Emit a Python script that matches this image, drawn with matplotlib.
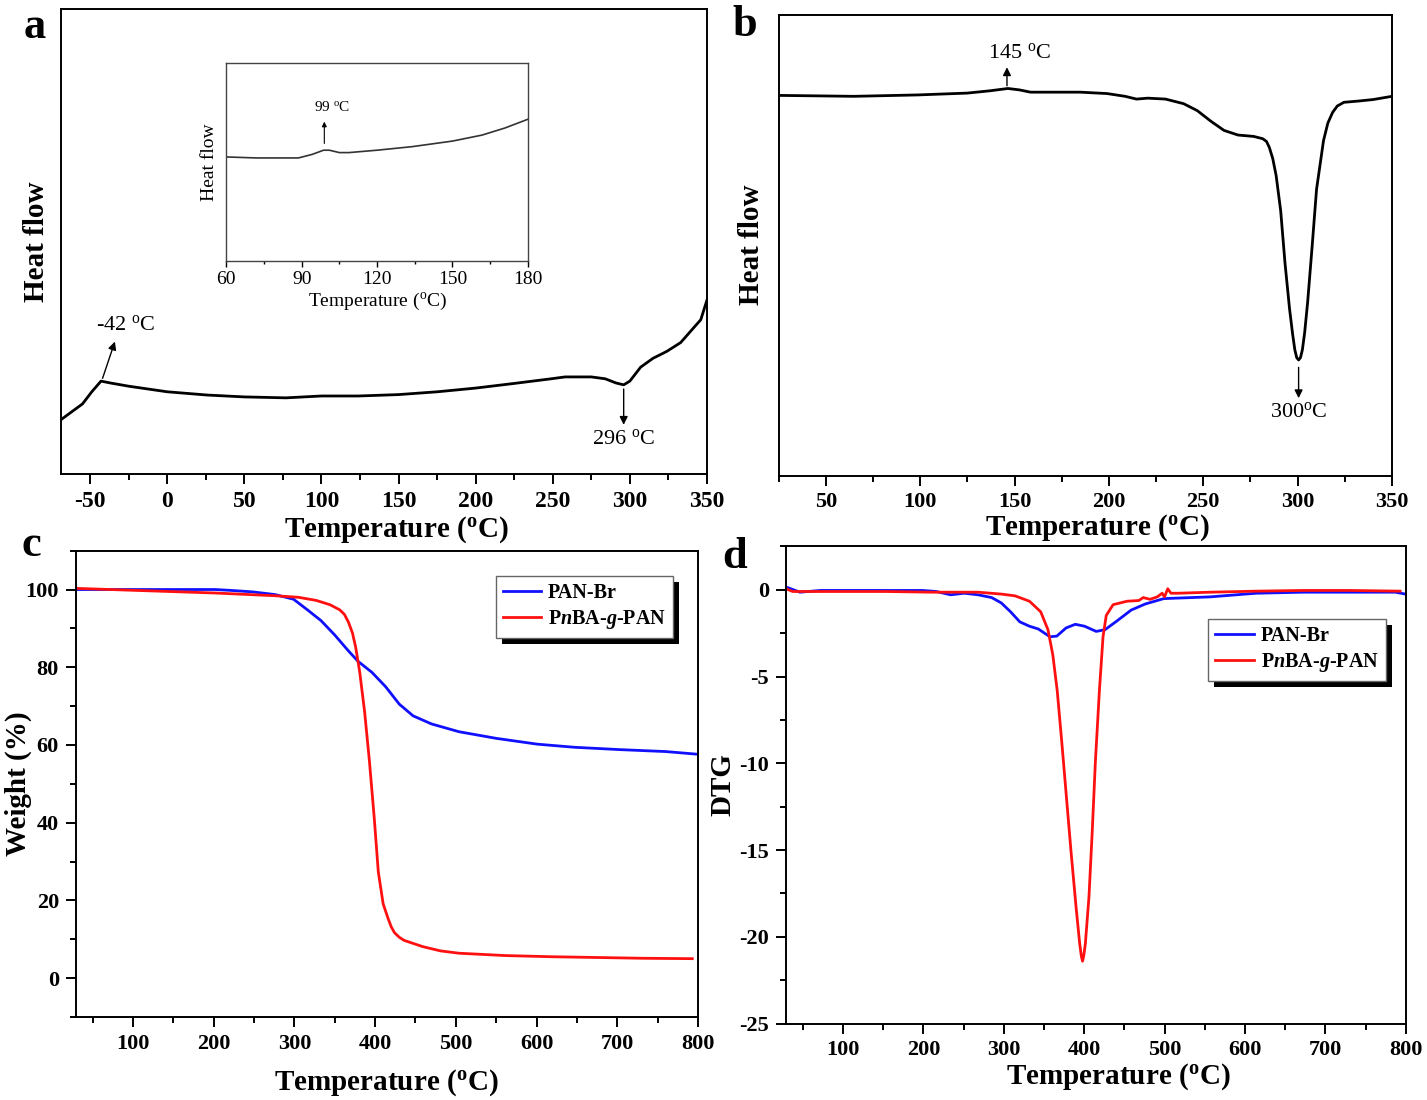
import matplotlib
matplotlib.use("Agg")
import matplotlib.pyplot as plt
import numpy as np
from matplotlib.ticker import MultipleLocator, NullLocator
from matplotlib.patches import Rectangle

plt.rcParams['font.family'] = 'Liberation Serif'
plt.rcParams['mathtext.fontset'] = 'custom'
plt.rcParams['mathtext.rm'] = 'Liberation Serif'
plt.rcParams['mathtext.bf'] = 'Liberation Serif:bold'
plt.rcParams['mathtext.it'] = 'Liberation Serif:italic'
plt.rcParams['mathtext.bfit'] = 'Liberation Serif:italic:bold'
plt.rcParams['axes.unicode_minus'] = False

# ---- data ----
# a: DSC, heat flow in arbitrary units
dsc_a_temp = [-69, -55, -49, -43, -37, -25, 0, 26, 50, 77, 100, 124, 150, 175, 200,
              225, 249, 258, 275, 284, 291, 296, 300, 307, 315, 324, 333, 342, 346, 350]
dsc_a_flow = [11.7, 15.1, 17.7, 20.0, 19.6, 18.9, 17.7, 17.0, 16.6, 16.4, 16.8, 16.8, 17.1,
              17.7, 18.5, 19.5, 20.5, 20.9, 20.9, 20.5, 19.6, 19.2, 20.0, 23.0, 24.9, 26.4,
              28.3, 31.7, 33.2, 37.4]

# a inset: zoom 60-180 C
inset_temp = [60, 72, 88.7, 94.2, 98.7, 101, 105, 108.8, 120, 134, 150, 161.7, 170.9, 180]
inset_flow = [52.7, 52.2, 52.2, 54.0, 56.1, 56.1, 54.9, 54.9, 56.1, 57.9, 60.7, 63.7, 67.3, 71.7]

# b: DSC
dsc_b_temp = [25, 65, 98.6, 125, 137, 146.5, 152.5, 158.5, 184.8, 199, 208.6, 214.6, 220.6,
              230, 239.6, 246.8, 254, 261, 268.4, 276.7, 281.5, 283.5, 285, 286.8, 288.6,
              291, 293.3, 295.7, 297.3, 298.5, 299.5, 300.5, 301.5, 302.5, 303.7, 305.3,
              307.7, 310, 313.7, 316, 318.5, 321, 324.5, 332.9, 340, 350]
dsc_b_flow = [82.5, 82.3, 82.6, 83.0, 83.5, 84.0, 83.7, 83.2, 83.2, 82.9, 82.3, 81.7, 81.9,
              81.7, 80.7, 79.2, 76.9, 74.9, 73.9, 73.6, 73.1, 72.5, 71.2, 68.8, 65.1,
              57.5, 46.1, 36.2, 30.8, 27.3, 25.6, 25.1, 25.6, 27.3, 31.0, 37.7,
              49.9, 62.1, 72.7, 76.5, 78.8, 80.2, 81.0, 81.3, 81.6, 82.3]

# c: TGA
tga_br_temp = [29, 100, 202, 219, 248, 276, 299, 316, 333, 350, 367, 379, 396, 413, 430,
               447, 470, 504, 550, 601, 647, 703, 760, 800]
tga_br_wt = [100, 100, 100, 99.8, 99.4, 98.7, 97.5, 94.8, 92.0, 88.3, 84.2, 81.5, 78.7,
             75.0, 70.5, 67.5, 65.4, 63.4, 61.7, 60.2, 59.4, 58.8, 58.3, 57.6]
tga_g_temp = [29, 100, 202, 276, 305, 327, 344, 356, 362, 367, 372, 376, 381, 387, 393,
              399, 404, 410, 416, 420, 424, 430, 436, 459, 481, 504, 561, 618, 675, 732, 793]
tga_g_wt = [100.3, 99.8, 99.1, 98.4, 98.0, 97.2, 96.1, 94.8, 93.6, 91.6, 88.8, 85.1, 78.7,
            68.6, 55.8, 41.1, 27.3, 19.1, 15.4, 13.2, 11.7, 10.5, 9.7, 8.1, 7.0, 6.4, 5.8,
            5.5, 5.3, 5.1, 5.0]

# d: DTG
dtg_br_temp = [29, 35, 46.5, 72, 124, 199, 216, 234, 251, 268, 285, 297, 308.5, 320, 332,
               343, 357.5, 366, 377.5, 389, 400.5, 415, 426, 441, 458.5, 476, 499, 556.7,
               614, 672, 729.5, 787, 800]
dtg_br = [0.16, 0.06, -0.14, -0.04, -0.04, -0.04, -0.1, -0.29, -0.2, -0.29, -0.45, -0.76,
          -1.27, -1.85, -2.1, -2.26, -2.71, -2.67, -2.2, -1.99, -2.1, -2.4, -2.3, -1.79,
          -1.17, -0.82, -0.51, -0.41, -0.2, -0.14, -0.14, -0.14, -0.25]
dtg_g_temp = [29, 37.5, 95, 153, 211, 268, 297, 314, 332, 346, 355, 361, 366.5, 372, 378,
              384, 390, 394.5, 396.5, 398, 399.5, 401.5, 406, 410, 414, 419, 423.5, 427.5,
              436, 453.5, 468, 473.5, 482, 491, 497, 500, 504, 508, 517, 557, 614, 672,
              729.5, 793]
dtg_g = [0.06, -0.1, -0.1, -0.1, -0.14, -0.14, -0.25, -0.35, -0.66, -1.27, -2.3, -3.74,
         -5.8, -8.67, -11.96, -15.24, -18.3, -20.4, -21.1, -21.4, -21.1, -20.4, -17.7,
         -14.0, -9.9, -5.8, -2.71, -1.48, -0.86, -0.66, -0.62, -0.45, -0.55, -0.41, -0.2,
         -0.41, 0.06, -0.2, -0.2, -0.14, -0.08, -0.04, -0.04, -0.08]

series_names = ['PAN-Br', r'P$\mathbfit{n}$BA-$\mathbfit{g}$-PAN']
blue = '#1010ff'
red = '#ff1010'

TEMP_BF = r'Temperature ($^{\mathbf{o}}$C)'


def style_axes(ax, tick_size, lw=1.4):
    for s in ax.spines.values():
        s.set_linewidth(lw)
    ax.tick_params(which='both', direction='out', top=False, right=False, width=lw)
    ax.tick_params(which='major', length=7, labelsize=tick_size, pad=5)
    ax.tick_params(which='minor', length=4)
    for lab in ax.get_xticklabels() + ax.get_yticklabels():
        lab.set_fontweight('bold')


def arrow(ax, tail, tip, lw=1.0, ms=12):
    ax.annotate('', xy=tip, xytext=tail,
                arrowprops=dict(arrowstyle='-|>', color='black', lw=lw,
                                mutation_scale=ms, shrinkA=0, shrinkB=0))


fig = plt.figure(figsize=(14.27, 11), dpi=100)

# ---------- a ----------
ax_a = fig.add_axes([0.0427, 0.569, 0.4527, 0.4227])
ax_a.plot(dsc_a_temp, dsc_a_flow, color='black', lw=2)
ax_a.set_xlim(-69, 350)
ax_a.set_ylim(0, 100)
ax_a.xaxis.set_major_locator(MultipleLocator(50))
ax_a.xaxis.set_minor_locator(MultipleLocator(25))
ax_a.yaxis.set_major_locator(NullLocator())
style_axes(ax_a, 17)
ax_a.set_xlabel(TEMP_BF, fontsize=21, fontweight='bold', labelpad=2)
ax_a.xaxis.label.set_x(0.519)
ax_a.set_ylabel('Heat flow', fontsize=21, fontweight='bold', labelpad=8)
arrow(ax_a, (-42, 20.6), (-34, 28.5))
ax_a.text(-27, 32, r'-42 $^{\rm o}$C', fontsize=16, ha='center', va='center')
arrow(ax_a, (296, 18.3), (296, 10.6))
ax_a.text(296, 7.5, r'296 $^{\rm o}$C', fontsize=16, ha='center', va='center')

# inset
ax_in = fig.add_axes([0.1586, 0.7623, 0.2113, 0.1803])
ax_in.plot(inset_temp, inset_flow, color='#333333', lw=1.2)
ax_in.set_xlim(60, 180)
ax_in.set_ylim(0, 100)
ax_in.xaxis.set_major_locator(MultipleLocator(30))
ax_in.xaxis.set_minor_locator(MultipleLocator(15))
ax_in.yaxis.set_major_locator(NullLocator())
for s in ax_in.spines.values():
    s.set_linewidth(1.0)
    s.set_color('#444444')
ax_in.tick_params(which='both', direction='out', top=False, right=False, width=1.0)
ax_in.tick_params(which='major', length=4, labelsize=14, pad=3)
ax_in.tick_params(which='minor', length=2.5)
ax_in.set_xlabel(r'Temperature ($^{\rm o}$C)', fontsize=14, labelpad=2)
ax_in.set_ylabel('Heat flow', fontsize=14, labelpad=6)
arrow(ax_in, (99, 59.5), (99, 70.5), lw=0.8, ms=7)
ax_in.text(102, 78, r'99 $^{\rm o}$C', fontsize=11, ha='center', va='center')

# ---------- b ----------
ax_b = fig.add_axes([0.5456, 0.5676, 0.4299, 0.419])
ax_b.plot(dsc_b_temp, dsc_b_flow, color='black', lw=2)
ax_b.set_xlim(25, 350)
ax_b.set_ylim(0, 100)
ax_b.xaxis.set_major_locator(MultipleLocator(50))
ax_b.xaxis.set_minor_locator(MultipleLocator(25))
ax_b.yaxis.set_major_locator(NullLocator())
style_axes(ax_b, 16)
ax_b.set_xlabel(TEMP_BF, fontsize=21, fontweight='bold', labelpad=0)
ax_b.xaxis.label.set_x(0.519)
ax_b.set_ylabel('Heat flow', fontsize=21, fontweight='bold', labelpad=10)
arrow(ax_b, (146, 84.6), (146, 88.6))
ax_b.text(152.5, 91.8, r'145 $^{\rm o}$C', fontsize=16, ha='center', va='center')
arrow(ax_b, (300.5, 23.5), (300.5, 16.8))
ax_b.text(300.5, 13.7, r'300$^{\rm o}$C', fontsize=16, ha='center', va='center')

# ---------- c ----------
ax_c = fig.add_axes([0.053, 0.0755, 0.4361, 0.4239])
ax_c.plot(tga_br_temp, tga_br_wt, color=blue, lw=2, label=series_names[0])
ax_c.plot(tga_g_temp, tga_g_wt, color=red, lw=2, label=series_names[1])
ax_c.set_xlim(29, 800)
ax_c.set_ylim(-10, 110)
ax_c.xaxis.set_major_locator(MultipleLocator(100))
ax_c.xaxis.set_minor_locator(MultipleLocator(50))
ax_c.yaxis.set_major_locator(MultipleLocator(20))
ax_c.yaxis.set_minor_locator(MultipleLocator(10))
style_axes(ax_c, 16)
ax_c.set_xlabel(TEMP_BF, fontsize=21, fontweight='bold', labelpad=10)
ax_c.set_ylabel('Weight (%)', fontsize=21, fontweight='bold')
ax_c.yaxis.set_label_coords(-0.07, 0.5)

# ---------- d ----------
ax_d = fig.add_axes([0.5507, 0.0694, 0.4344, 0.4339])
ax_d.plot(dtg_br_temp, dtg_br, color=blue, lw=2, label=series_names[0])
ax_d.plot(dtg_g_temp, dtg_g, color=red, lw=2, label=series_names[1])
ax_d.set_xlim(29, 800)
ax_d.set_ylim(-25, 2.5)
ax_d.xaxis.set_major_locator(MultipleLocator(100))
ax_d.xaxis.set_minor_locator(MultipleLocator(50))
ax_d.yaxis.set_major_locator(MultipleLocator(5))
ax_d.yaxis.set_minor_locator(MultipleLocator(2.5))
style_axes(ax_d, 16)
ax_d.set_xlabel(TEMP_BF, fontsize=21, fontweight='bold', labelpad=1)
ax_d.xaxis.label.set_x(0.536)
ax_d.set_ylabel('DTG', fontsize=21, fontweight='bold')
ax_d.yaxis.set_label_coords(-0.08, 0.5)

# legends with solid black drop shadow
legends = []
for ax, anchor in [(ax_c, (0.96, 0.946)), (ax_d, (0.968, 0.848))]:
    leg = ax.legend(loc='upper right', bbox_to_anchor=anchor, borderaxespad=0,
                    fancybox=False, frameon=True, framealpha=1, edgecolor='#666666',
                    prop={'weight': 'bold', 'size': 14.5}, handlelength=1.9,
                    handletextpad=0.35, labelspacing=0.25, borderpad=0.35)
    leg.get_frame().set_linewidth(1.0)
    legends.append(leg)

# panel letters
for x, y, s in [(0.024, 0.975, 'a'), (0.522, 0.977, 'b'), (0.022, 0.505, 'c'), (0.515, 0.494, 'd')]:
    fig.text(x, y, s, fontsize=32, fontweight='bold', ha='center', va='center')

fig.canvas.draw()
for leg in legends:
    bb = leg.get_window_extent()
    sh = Rectangle((bb.x0 + 6, bb.y0 - 6), bb.width, bb.height, transform=None,
                   facecolor='black', edgecolor='none', zorder=4.9)
    leg.axes.add_artist(sh)
    leg.set_zorder(5)

fig.savefig('out.png', dpi=100)
